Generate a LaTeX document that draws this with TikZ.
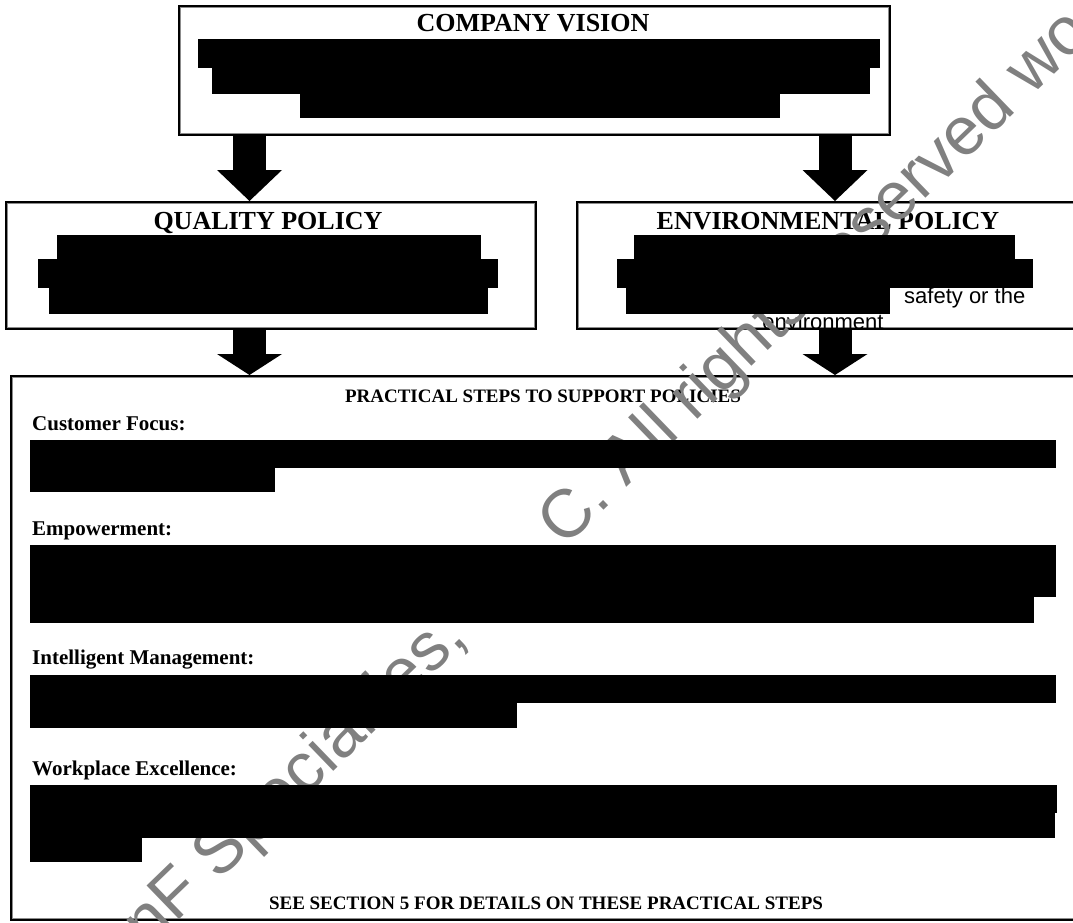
\documentclass[tikz,border=0pt]{standalone}
\usepackage{fontspec}
\setmainfont{Liberation Serif}
\newfontfamily\arialf{Liberation Sans}
\usetikzlibrary{arrows.meta}
\begin{document}
\begin{tikzpicture}[x=1pt,y=-1pt,
  box/.style={draw=black,line width=3pt,rectangle,inner sep=0pt,anchor=north west},
  innerline/.style={draw=black!45,line width=0.9pt},
  ttl/.style={font=\bfseries\fontsize{26}{30}\selectfont,anchor=base,inner sep=0pt},
  sub/.style={font=\bfseries\fontsize{19}{23}\selectfont,anchor=base,inner sep=0pt},
  lbl/.style={font=\bfseries\fontsize{21}{25}\selectfont,anchor=base west,inner sep=0pt},
  body/.style={font=\arialf\fontsize{22}{25}\selectfont,inner sep=0pt},
  wm/.style={font=\arialf\fontsize{68}{68}\selectfont,text=black!50,inner sep=0pt,anchor=base west,rotate=44},
  bar/.style={fill=black},
  toparrow/.style={line width=33pt,-{Triangle[width=65pt,length=31pt,line width=0pt]}},
  lowarrow/.style={line width=33pt,-{Triangle[width=65pt,length=21pt,line width=0pt]}}]
\useasboundingbox (0,0) rectangle (1073,923);
\clip (0,0) rectangle (1073,923);

% boxes
\node[box, minimum width=710pt, minimum height=128pt] (vision) at (178,5) {};
\node[box, minimum width=529pt, minimum height=126pt] (quality) at (5,201) {};
\node[box, minimum width=530pt, minimum height=126pt] (env) at (576,201) {};
\node[box, minimum width=1100pt, minimum height=543pt] (steps) at (10,375) {};
\foreach \n in {vision,quality,env,steps}
  \draw[innerline] ([shift={(2.6pt,-2.6pt)}]\n.north west) rectangle ([shift={(-2.6pt,2.6pt)}]\n.south east);

% texts
\node[ttl] (tv) at (533,32) {COMPANY VISION};
\node[ttl] (tq) at (268,229) {QUALITY POLICY};
\node[ttl] (te) at (828,229) {ENVIRONMENTAL POLICY};
\node[sub] (tp) at (543,402) {PRACTICAL STEPS TO SUPPORT POLICIES};
\node[lbl] (l1) at (32,430) {Customer Focus:};
\node[lbl] (l2) at (32,535) {Empowerment:};
\node[lbl] (l3) at (32,664) {Intelligent Management:};
\node[lbl] (l4) at (32,775) {Workplace Excellence:};
\node[sub] (see) at (546,909) {SEE SECTION 5 FOR DETAILS ON THESE PRACTICAL STEPS};
\node[body,anchor=base west] (saf) at (904,303) {safety or the};
\begin{scope}
  \clip (env.north west) rectangle (env.south east);
  \node[body,anchor=base] (envw) at (823,329) {environment};
\end{scope}

% watermark
\node[wm] (wmk) at (148,950) {nF Specialties, L.L.C. All rights reserved wo};

% redaction bars
\fill[bar] (198,39) rectangle (880,68);
\fill[bar] (212,68) rectangle (870,94);
\fill[bar] (300,94) rectangle (780,118);
\fill[bar] (57,235) rectangle (481,259);
\fill[bar] (38,259) rectangle (498,288);
\fill[bar] (49,288) rectangle (488,314);
\fill[bar] (634,235) rectangle (1015,259);
\fill[bar] (617,259) rectangle (1033,288);
\fill[bar] (626,288) rectangle (890,314);
\fill[bar] (30,440) rectangle (1056,468);
\fill[bar] (30,468) rectangle (275,492);
\fill[bar] (30,545) rectangle (1056,597);
\fill[bar] (30,597) rectangle (1034,623);
\fill[bar] (30,675) rectangle (1056,703);
\fill[bar] (30,703) rectangle (517,728);
\fill[bar] (30,785) rectangle (1057,813);
\fill[bar] (30,813) rectangle (1055,838);
\fill[bar] (30,838) rectangle (142,862);

% arrows
\path (249.5,0) coordinate (ax1) (835,0) coordinate (ax2);
\draw[toparrow] (vision.south -| ax1) -- (quality.north -| ax1);
\draw[toparrow] (vision.south -| ax2) -- (env.north -| ax2);
\draw[lowarrow] (quality.south -| ax1) -- (steps.north -| ax1);
\draw[lowarrow] (env.south -| ax2) -- (steps.north -| ax2);
\end{tikzpicture}
\end{document}
